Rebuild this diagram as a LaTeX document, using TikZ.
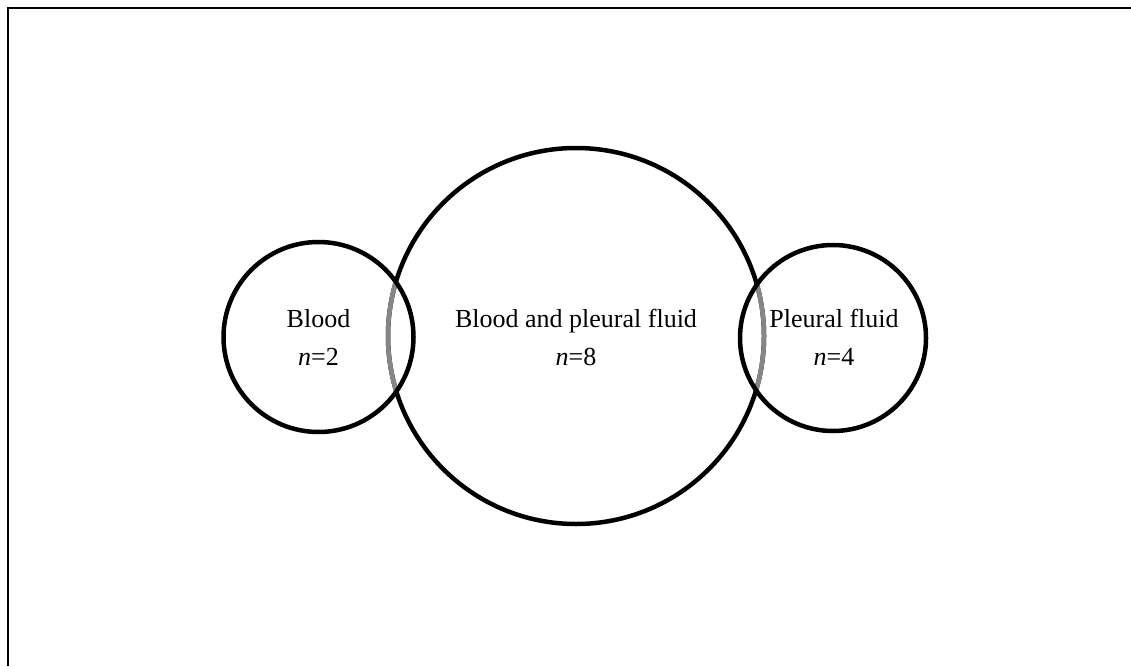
\documentclass[tikz,border=0pt]{standalone}
\usepackage{fontspec}
\setmainfont{Liberation Serif}
\begin{document}
\begin{tikzpicture}[x=1pt,y=-1pt,
  ring/.style={draw=black,line width=4.5pt},
  overlap/.style={draw=gray!95,line width=4.5pt},
  label/.style={anchor=base,inner sep=0pt,font=\fontsize{26}{31}\selectfont},
  frame/.style={draw=black,line width=2pt}]
  \useasboundingbox (0,0) rectangle (1131,666);
  % outer frame (left and top edges)
  \draw[frame] (7.5,666) -- (7.5,8.5) -- (1131,8.5);

  % circle centres
  \coordinate (cL) at (318.5,337);
  \coordinate (cM) at (576,336);
  \coordinate (cR) at (833,338);

  % central set
  \draw[ring] (cM) circle[radius=188];
  % parts of the central set lying inside the side sets
  \begin{scope}
    \clip (cL) circle[radius=95];
    \draw[overlap] (cM) circle[radius=188];
  \end{scope}
  \begin{scope}
    \clip (cR) circle[radius=93];
    \draw[overlap] (cM) circle[radius=188];
  \end{scope}
  % side sets
  \draw[ring] (cL) circle[radius=95];
  \draw[ring] (cR) circle[radius=93];

  % labels
  \node[label] (tL) at (318.5,327) {Blood};
  \node[label] (nL) at (318.5,365) {\textit{n}=2};
  \node[label] (tM) at (576,327) {Blood and pleural fluid};
  \node[label] (nM) at (576,365) {\textit{n}=8};
  \node[label] (tR) at (834,327) {Pleural fluid};
  \node[label] (nR) at (834,365) {\textit{n}=4};
\end{tikzpicture}
\end{document}
